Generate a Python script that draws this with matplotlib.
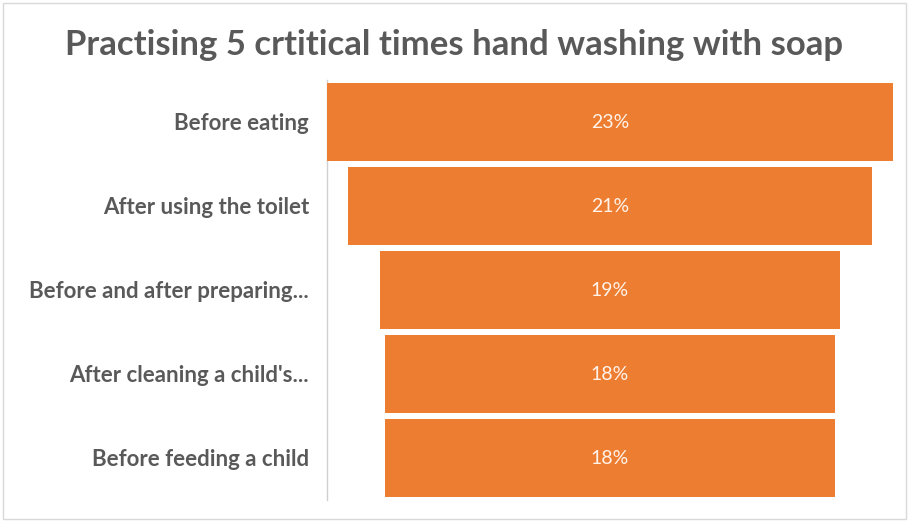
import matplotlib
matplotlib.use("Agg")
import matplotlib.pyplot as plt
from matplotlib.patches import Rectangle

plt.rcParams["font.family"] = ["Lato", "DejaVu Sans"]

# funnel data (share of respondents, %)
categories = [
    "Before eating",
    "After using the toilet",
    "Before and after preparing...",
    "After cleaning a child's...",
    "Before feeding a child",
]
values = [22.9, 21.2, 18.6, 18.2, 18.2]

BAR_COLOR = "#ED7D31"
TEXT_COLOR = "#595959"

fig = plt.figure(figsize=(9.09, 5.21), dpi=100)
fig.patch.set_facecolor("white")

# thin frame around the whole chart area
fig.patches.append(Rectangle((0.003, 0.004), 0.994, 0.99, transform=fig.transFigure,
                             fill=False, edgecolor="#D9D9D9", linewidth=1.0))

ax = fig.add_axes([327 / 909, 1 - 500 / 521, 566 / 909, 420 / 521])

y = list(range(len(categories)))
vmax = max(values)
lefts = [-v / 2 for v in values]
ax.barh(y, values, left=lefts, height=0.92, color=BAR_COLOR, edgecolor="none", zorder=2)

for yi, v in zip(y, values):
    ax.text(0, yi, f"{v:.0f}%", ha="center", va="center", color="#FFF3EA", fontsize=14)

ax.set_xlim(-vmax / 2, vmax / 2)
ax.set_ylim(len(categories) - 0.5, -0.5)
ax.set_yticks(y)
ax.set_yticklabels(categories, fontsize=16, fontweight="bold", color=TEXT_COLOR)
ax.tick_params(axis="y", length=0, pad=13)
ax.set_xticks([])

for side in ["top", "right", "bottom"]:
    ax.spines[side].set_visible(False)
ax.spines["left"].set_color("#D0D0D0")
ax.spines["left"].set_linewidth(1.0)
ax.spines["left"].set_zorder(1)

fig.text(0.5, 1 - 45 / 521, "Practising 5 crtitical times hand washing with soap",
         ha="center", va="center", fontsize=25, fontweight="bold", color=TEXT_COLOR)

fig.savefig("out.png", dpi=100, facecolor="white")
